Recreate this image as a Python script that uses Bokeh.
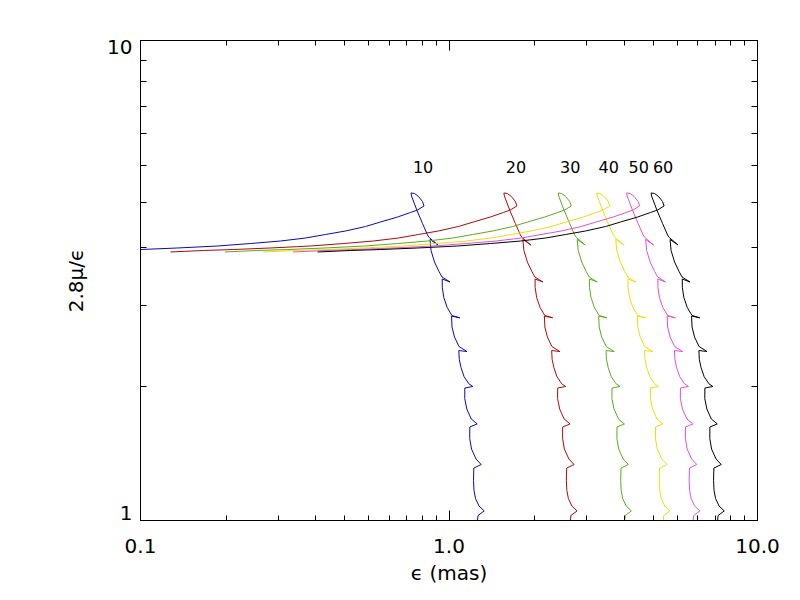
from bokeh.plotting import figure
from bokeh.models import (LogAxis, FixedTicker, CustomJSTickFormatter, Range1d,
                          LogScale)
from bokeh.core.properties import value
from bokeh.embed import file_html
from bokeh.resources import INLINE

# curve labels (each curve is the "10" track scaled in epsilon by label/10)
labels = [10, 20, 30, 40, 50, 60]
colors = ["#0a0aaa", "#aa0a0a", "#5aaa1e", "#f0dc0a", "#dc50dc", "#000000"]

# track for label 10: epsilon (mas)
eps10 = [0.0625, 0.0799, 0.1000, 0.1318, 0.1776, 0.2273, 0.2844, 0.3426, 0.3977,
         0.4618, 0.5362, 0.5997, 0.6809, 0.7503, 0.7906, 0.8299,
         0.8206, 0.7965, 0.7731, 0.7531, 0.7559, 0.7876, 0.8206, 0.8518, 0.8627,
         0.9212, 0.8678,
         0.8744, 0.8974, 0.9281, 0.9491, 1.0075, 0.9505,
         0.9512, 0.9619, 0.9867, 1.0227, 1.0839, 1.0189,
         1.0227, 1.0419, 1.0775, 1.1439, 1.0759,
         1.0799, 1.0937, 1.1186, 1.1594, 1.1945, 1.1253,
         1.1245, 1.1422, 1.1812, 1.2344, 1.1681,
         1.1673, 1.1830, 1.2234, 1.2717, 1.2034,
         1.2007, 1.2052, 1.2188, 1.2511, 1.3004, 1.2418, 1.2326]
# 2.8 mu / epsilon along the track
ratio = [3.626, 3.652, 3.669, 3.696, 3.731, 3.776, 3.822, 3.877, 3.943,
         4.010, 4.097, 4.187, 4.288, 4.382, 4.435, 4.521,
         4.619, 4.732, 4.800, 4.812, 4.743, 4.424, 4.157, 3.934, 3.887,
         3.749, 3.850,
         3.652, 3.456, 3.302, 3.216, 3.140, 3.185,
         3.058, 2.915, 2.778, 2.673, 2.644, 2.667,
         2.530, 2.411, 2.304, 2.249, 2.260,
         2.165, 2.083, 1.995, 1.927, 1.902, 1.888,
         1.795, 1.707, 1.627, 1.589, 1.566,
         1.482, 1.409, 1.343, 1.308, 1.286,
         1.212, 1.155, 1.111, 1.072, 1.047, 1.024, 0.976]

label_eps10 = 0.824
label_ratio = 5.46

x_ticks = [0.1, 1.0, 10.0]
x_minor = [0.19, 0.28, 0.37, 0.46, 0.55, 0.64, 0.73, 0.82, 0.91,
           1.9, 2.8, 3.7, 4.6, 5.5, 6.4, 7.3, 8.2, 9.1]
y_ticks = [1, 10]
y_minor = [1.9, 2.8, 3.7, 4.6, 5.5, 6.4, 7.3, 8.2, 9.1]

FONT = "DejaVu Sans"

p = figure(x_axis_type="log", y_axis_type="log",
           x_range=Range1d(0.1, 10), y_range=Range1d(1, 10),
           frame_width=617, frame_height=480,
           min_border_left=140, min_border_right=43,
           min_border_top=40, min_border_bottom=80,
           output_backend="svg", toolbar_location=None)
p.background_fill_color = "white"
p.border_fill_color = "white"
p.outline_line_color = "black"
p.outline_line_width = 1
p.xgrid.visible = False
p.ygrid.visible = False

for n, c in zip(labels, colors):
    p.line([e * n / 10 for e in eps10], ratio, line_color=c, line_width=1)

p.text(x=[label_eps10 * n / 10 for n in labels], y=[label_ratio] * len(labels),
       text=[str(n) for n in labels], text_font=value(FONT),
       text_font_size="16px", text_align="center", text_baseline="middle",
       text_color="black")

def style(ax, ticks, minor, code, minor_len):
    ax.ticker = FixedTicker(ticks=ticks, minor_ticks=minor)
    ax.formatter = CustomJSTickFormatter(code=code)
    ax.major_tick_in = 10
    ax.major_tick_out = 0
    ax.minor_tick_in = minor_len
    ax.minor_tick_out = 0
    ax.axis_line_color = "black"
    ax.major_tick_line_color = "black"
    ax.minor_tick_line_color = "black"
    ax.major_label_text_font = FONT
    ax.major_label_text_font_size = "20px"
    ax.major_label_text_color = "black"
    ax.axis_label_text_font = FONT
    ax.axis_label_text_font_size = "20px"
    ax.axis_label_text_font_style = "normal"
    ax.axis_label_text_color = "black"

xa = p.xaxis[0]
style(xa, x_ticks, x_minor, "return tick.toFixed(1);", 5)
xa.axis_label = "\u03f5 (mas)"
xa.major_label_standoff = 18
xa.axis_label_standoff = 5

# main left axis: ticks only
ya = p.yaxis[0]
style(ya, y_ticks, y_minor, "return '';", 6)
ya.major_label_text_font_size = "0px"
ya.major_label_standoff = 0

# label-only left axis on a slightly widened range, so that "10" sits just
# below the top corner and "1" just above the bottom corner (as in the original)
p.extra_y_ranges = {"lab": Range1d(0.9617, 10.347)}
p.extra_y_scales = {"lab": LogScale()}
yl = LogAxis(y_range_name="lab")
style(yl, y_ticks, [], "return tick.toFixed(0);", 0)
yl.axis_line_color = None
yl.major_tick_line_color = None
yl.minor_tick_line_color = None
yl.major_tick_in = 0
yl.major_label_standoff = 8
yl.axis_label = "2.8\u03bc/\u03f5"
yl.axis_label_standoff = 16
p.add_layout(yl, "left")

top = LogAxis()
style(top, x_ticks, x_minor, "return '';", 5)
top.major_label_text_font_size = "0px"
p.add_layout(top, "above")

right = LogAxis()
style(right, y_ticks, y_minor, "return '';", 6)
right.major_label_text_font_size = "0px"
p.add_layout(right, "right")

open("out.html", "w").write(file_html(p, INLINE))
